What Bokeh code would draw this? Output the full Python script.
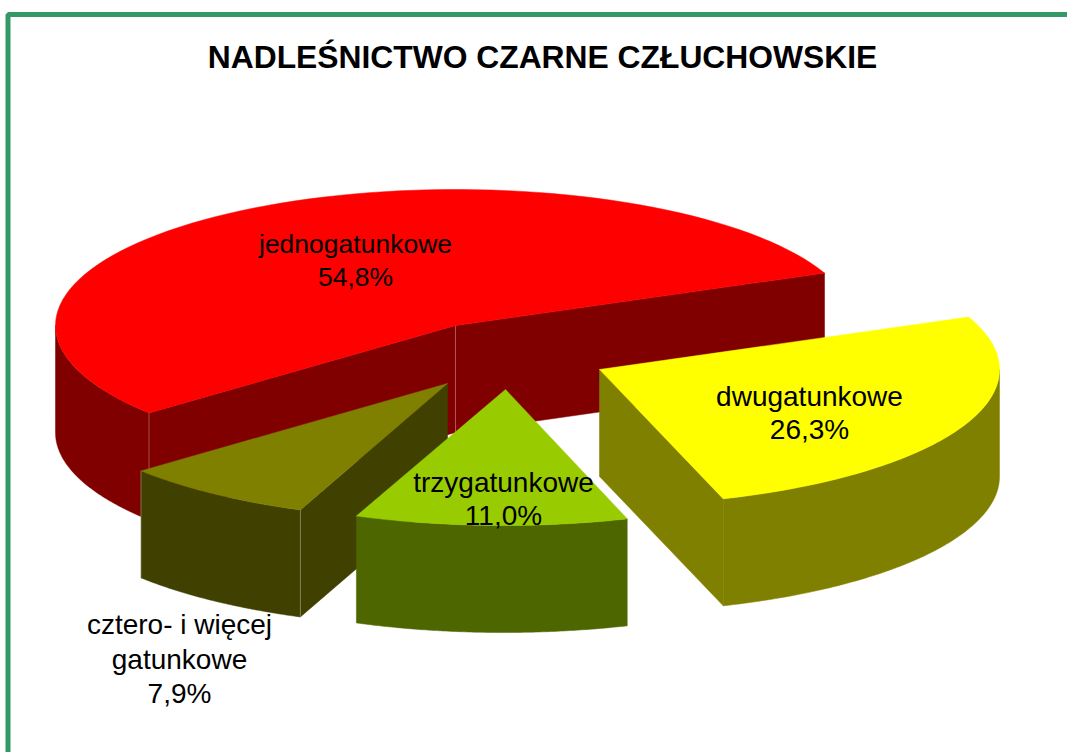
import numpy as np
from bokeh.plotting import figure
from bokeh.embed import file_html
from bokeh.resources import INLINE
from bokeh.core.properties import value

TITLE = "NADLEŚNICTWO CZARNE CZŁUCHOWSKIE"
categories = ["jednogatunkowe", "dwugatunkowe", "trzygatunkowe", "cztero- i więcej gatunkowe"]
shares = [54.8, 26.3, 11.0, 7.9]
label_lines = [["jednogatunkowe"], ["dwugatunkowe"], ["trzygatunkowe"], ["cztero- i więcej", "gatunkowe"]]
top_colors = ["#FF0000", "#FFFF00", "#99CC00", "#808000"]
side_colors = ["#800000", "#808000", "#4D6600", "#404000"]
apex_x = [455, 599, 505, 447]
apex_y = [325, 369, 389, 383]
rim_x = [455, 599, 503, 447]
label_x = [355, 809, 503, 179]
label_y = [243, 396, 482, 624]
label_size = ["26.5px", "28px", "28px", "28px"]
label_line_h = [33, 33, 33, 34.5]

RX, RY, DEPTH = 400, 136, 107
START_DEG = 22.7

W, H = 1067, 752
p = figure(width=W, height=H, x_range=(0, W), y_range=(H, 0),
           output_backend="svg", toolbar_location=None,
           min_border=0, outline_line_color=None, background_fill_color="white")
p.xaxis.visible = False
p.yaxis.visible = False
p.grid.visible = False

order = [0, 3, 2, 1]
spans = {}
a = START_DEG
for i in order:
    b = a + shares[i] * 3.6
    spans[i] = (a, b)
    a = b

def rim(i, a0, a1):
    t = np.radians(np.linspace(a0, a1, 90))
    return rim_x[i] + RX * np.cos(t), apex_y[i] - RY * np.sin(t)

def poly(xs, ys, color):
    p.patch(list(xs), list(ys), fill_color=color, line_color=color, line_width=0.5)

def outer_side(i, a0, a1):
    x, y = rim(i, a0, a1)
    poly(np.r_[x, x[::-1]], np.r_[y, (y + DEPTH)[::-1]], side_colors[i])

def cut_face(i, ang):
    x, y = rim(i, ang, ang)
    ax, ay = apex_x[i], apex_y[i]
    poly([ax, x[0], x[0], ax], [ay, y[0], y[0] + DEPTH, ay + DEPTH], side_colors[i])

def seam(x, y):
    p.line([x, x], [y, y + DEPTH], line_color="#FFFFFF", line_alpha=0.3, line_width=1)

def rim_pt(i, ang):
    x, y = rim(i, ang, ang)
    return x[0], y[0]

def top(i):
    a0, a1 = spans[i]
    x, y = rim(i, a0, a1)
    poly(np.r_[apex_x[i], x], np.r_[apex_y[i], y], top_colors[i])

i = 0
a0, a1 = spans[i]
cut_face(i, a0)
cut_face(i, a1)
outer_side(i, 180, a1)
seam(*rim_pt(i, a1))
seam(apex_x[i], apex_y[i])
top(i)

i = 3
a0, a1 = spans[i]
cut_face(i, a1)
outer_side(i, a0, a1)
seam(*rim_pt(i, a0))
seam(*rim_pt(i, a1))
top(i)

i = 2
a0, a1 = spans[i]
outer_side(i, a0, a1)
top(i)

i = 1
a0, a1 = spans[i]
cut_face(i, a0)
outer_side(i, a0, 360)
top(i)

for i, lines in enumerate(label_lines):
    rows = lines + [f"{shares[i]:.1f}%".replace(".", ",")]
    for k, s in enumerate(rows):
        p.text([label_x[i]], [label_y[i] + k * label_line_h[i]], text=[s], text_align="center",
               text_baseline="middle", text_color="#000000",
               text_font=value("Liberation Sans"), text_font_size=label_size[i])

p.text([542], [56], text=[TITLE], text_align="center", text_baseline="middle",
       text_color="#000000", text_font=value("Liberation Sans"),
       text_font_style="bold", text_font_size="31.8px")

p.line([7.5, 7.5, W], [H, 14, 14], line_color="#339966", line_width=5)

open("out.html", "w").write(file_html(p, INLINE))
